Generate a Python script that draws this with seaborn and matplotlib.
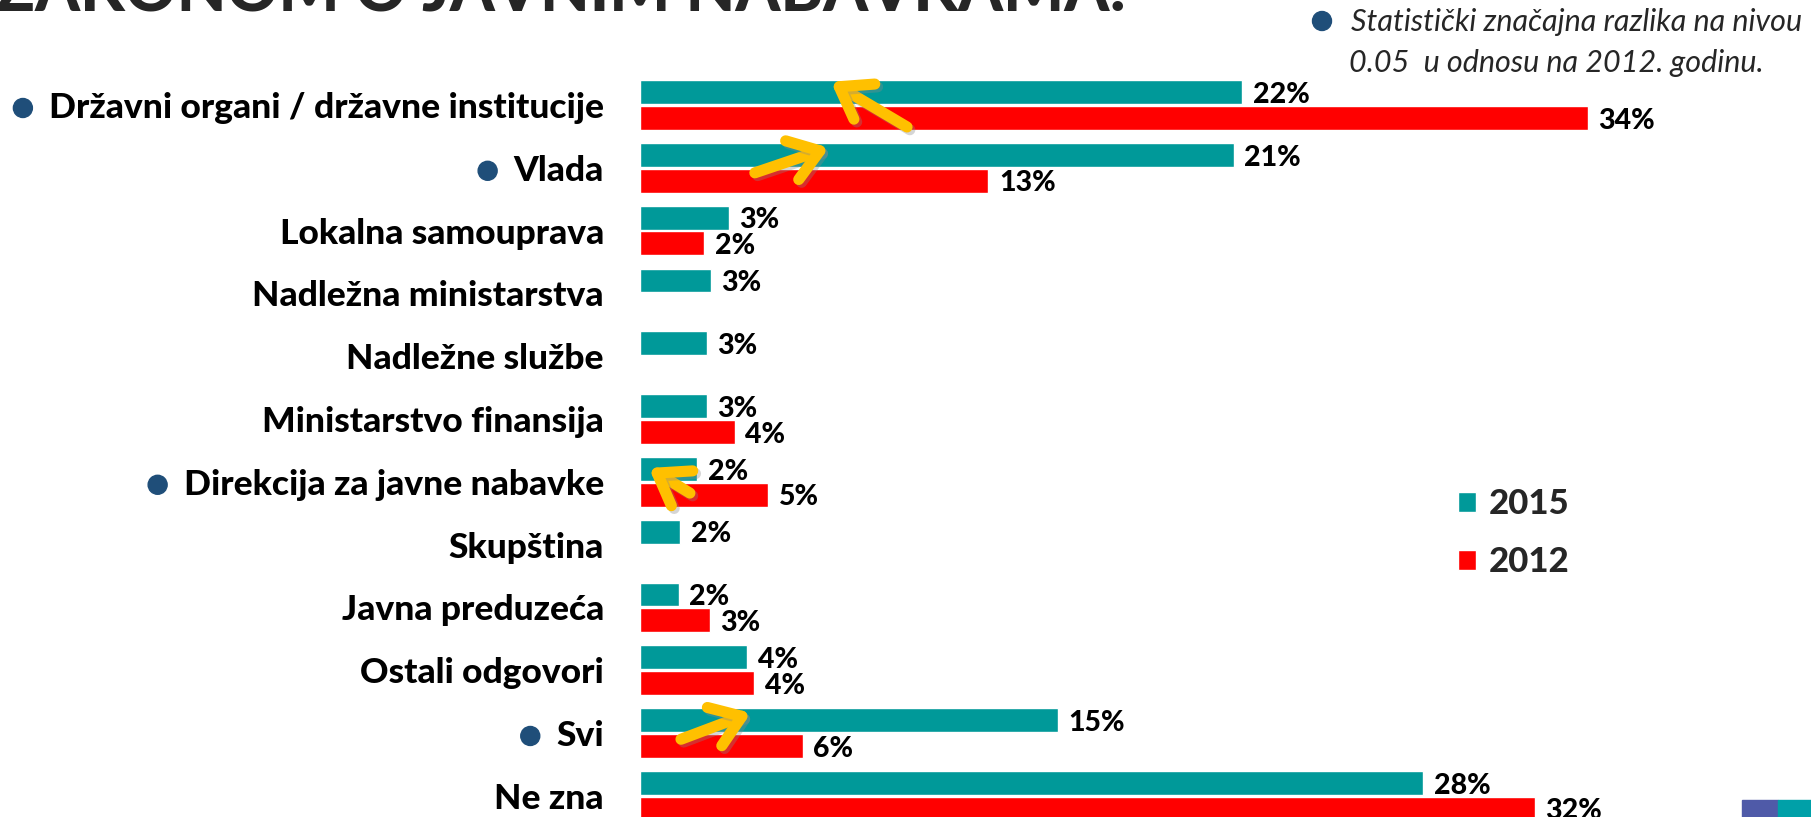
import numpy as np
import pandas as pd
import matplotlib
matplotlib.use('Agg')
import matplotlib.pyplot as plt
import seaborn as sns
from matplotlib import patheffects as pe
from matplotlib.patches import FancyArrowPatch, Rectangle, Ellipse

# Data
categories = [
    'Državni organi / državne institucije', 'Vlada', 'Lokalna samouprava',
    'Nadležna ministarstva', 'Nadležne službe', 'Ministarstvo finansija',
    'Direkcija za javne nabavke', 'Skupština', 'Javna preduzeća',
    'Ostali odgovori', 'Svi', 'Ne zna',
]
vals_2015 = [21.6, 21.3, 3.2, 2.55, 2.4, 2.4, 2.05, 1.45, 1.4, 3.85, 15.0, 28.1]
vals_2012 = [34.0, 12.5, 2.3, np.nan, np.nan, 3.4, 4.6, np.nan, 2.5, 4.1, 5.85, 32.1]
labels_2015 = ['22%', '21%', '3%', '3%', '3%', '3%', '2%', '2%', '2%', '4%', '15%', '28%']
labels_2012 = ['34%', '13%', '2%', '', '', '4%', '5%', '', '3%', '4%', '6%', '32%']
years = ['2015', '2012']
colors = {'2015': '#009999', '2012': '#FF0000'}

# categories with statistically significant change (bullet marks)
bulleted = ['Državni organi / državne institucije', 'Vlada', 'Direkcija za javne nabavke', 'Svi']
# yellow arrows: (x_tail, y_tail, x_head, y_head) in data units
arrows = [
    (9.58, 0.35, 6.85, -0.37),
    (4.12, 1.08, 6.78, 0.68),
    (1.79, 6.18, 0.32, 5.78),
    (1.47, 10.10, 3.98, 9.68),
]

df = pd.DataFrame({
    'Kategorija': categories * 2,
    'Godina': ['2015'] * len(categories) + ['2012'] * len(categories),
    'Procenat': vals_2015 + vals_2012,
}).dropna()

sns.set_style('white')
plt.rcParams['font.family'] = ['Lato', 'DejaVu Sans']

W, H = 1811, 817
fig = plt.figure(figsize=(W / 100, H / 100), dpi=100)
ax = fig.add_axes([640 / W, 0, 1115 / W, 1])

sns.barplot(data=df, y='Kategorija', x='Procenat', hue='Godina', order=categories,
            hue_order=years, palette=colors, saturation=1, width=0.82, gap=0.07,
            orient='h', ax=ax)

ax.set_xlim(0, 40)
ax.set_ylim(11.338, -1.672)
ax.set_xlabel('')
ax.set_ylabel('')
ax.set_xticks([])
sns.despine(ax=ax, left=True, bottom=True)
ax.tick_params(axis='y', length=0, pad=26, labelsize=25.5)
for t in ax.get_yticklabels():
    t.set_fontweight('black')
    t.set_color('black')

# value labels
lab15 = [l for v, l in zip(vals_2015, labels_2015) if not np.isnan(v)]
lab12 = [l for v, l in zip(vals_2012, labels_2012) if not np.isnan(v)]
for cont, labs in zip(ax.containers, [lab15, lab12]):
    anns = ax.bar_label(cont, labels=labs, padding=7.5, fontsize=20.5, fontweight='black', color='black')
    for a in anns:
        a.xyann = (7.5, -2)

# legend
handles, labs = ax.get_legend_handles_labels()
ax.legend(handles, labs, loc='upper left', bbox_to_anchor=(1458 / W, 1 - 488 / H),
          bbox_transform=fig.transFigure, frameon=False, handlelength=0.52,
          handleheight=0.52, handletextpad=0.37, labelspacing=0.75, borderpad=0,
          borderaxespad=0, prop={'family': 'Lato', 'weight': 'black', 'size': 25})

# arrows
for x0, y0, x1, y1 in arrows:
    arr = FancyArrowPatch((x0, y0), (x1, y1), arrowstyle='->,head_length=0.5,head_width=0.35',
                          mutation_scale=42, color='#FFC000', lw=8, shrinkA=0, shrinkB=0,
                          capstyle='round', joinstyle='round', zorder=5)
    arr.set_path_effects([pe.SimpleLineShadow(offset=(2, -2), alpha=0.35, shadow_color='#888888'),
                          pe.Normal()])
    ax.add_patch(arr)

# bullets in front of significant categories
fig.canvas.draw()
r = fig.canvas.get_renderer()
bullet = '#1F4E79'
for t in ax.get_yticklabels():
    if t.get_text() in bulleted:
        bb = t.get_window_extent(r)
        cx = (bb.x0 - 26) / W
        cy = (bb.y0 + bb.y1) / 2 / H
        fig.add_artist(Ellipse((cx, cy), 19 / W, 19 / H, color=bullet))

# note top-right
fig.add_artist(Ellipse((1322 / W, 1 - 21 / H), 19 / W, 19 / H, color=bullet))
fig.text(1351 / W, 1 - 22 / H, 'Statistički značajna razlika na nivou', fontsize=22,
         style='italic', color='#262626', va='center')
fig.text(1349 / W, 1 - 63 / H, '0.05  u odnosu na 2012. godinu.', fontsize=22,
         style='italic', color='#262626', va='center')

# cut-off title at the top
title = fig.text(-4 / W, 1 - 11 / H, 'ZAKONOM O JAVNIM NABAVKAMA:', fontsize=50,
                 fontweight='black', color='#262626', va='baseline')
fig.canvas.draw()
tw = title.get_window_extent(fig.canvas.get_renderer()).width
title.set_fontsize(50 * 1130 / tw)

# logo fragment bottom-right
fig.add_artist(Rectangle((1742 / W, 0), 36 / W, 17 / H, color='#4F5AA8', transform=fig.transFigure))
fig.add_artist(Rectangle((1778 / W, 0), 33 / W, 17 / H, color='#00A0A8', transform=fig.transFigure))

fig.savefig('out.png', dpi=100)
